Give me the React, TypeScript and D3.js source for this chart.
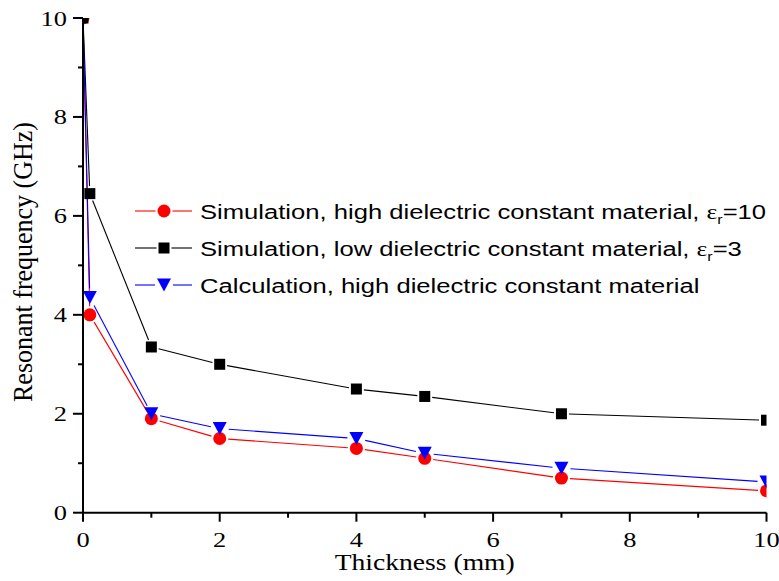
import React from 'react';
import * as d3 from 'd3';

// values
const thickness = [0, 0.1, 1, 2, 4, 5, 7, 10];
const simHigh = [10, 4.0, 1.9, 1.5, 1.3, 1.1, 0.7, 0.44];
const simLow = [10, 6.45, 3.35, 3.0, 2.5, 2.35, 2.0, 1.87];
const calcHigh = [10, 4.35, 2.0, 1.7, 1.5, 1.2, 0.9, 0.62];

const majorTicks = [0, 2, 4, 6, 8, 10];
const minorTicks = [1, 3, 5, 7, 9];

const series = [
  { key: 'simHigh', values: simHigh, color: '#ff0000', shape: 'circle', label: 'Simulation, high dielectric constant material, ', eps: '10' },
  { key: 'simLow', values: simLow, color: '#000000', shape: 'square', label: 'Simulation, low dielectric constant material, ', eps: '3' },
  { key: 'calcHigh', values: calcHigh, color: '#0000ff', shape: 'triangle', label: 'Calculation, high dielectric constant material', eps: null },
];

// drawing order of the markers (black squares sit on top)
const markerOrder = ['simHigh', 'calcHigh', 'simLow'];

const W = 779;
const H = 581;
const serif = '"Liberation Serif", "Times New Roman", serif';
const sans = '"Liberation Sans", Arial, sans-serif';

const x = d3.scaleLinear().domain([0, 10]).range([83, 766.5]);
const y = d3.scaleLinear().domain([0, 10]).range([512.7, 18]);

const markerSize = { circle: 6.5, square: 5.5, triangle: 7 };

const Marker = ({ shape, cx, cy, color }) => {
  if (shape === 'circle') return <circle cx={cx} cy={cy} r={markerSize.circle} fill={color} />;
  if (shape === 'square') {
    const s = markerSize.square;
    return <rect x={cx - s} y={cy - s} width={s * 2} height={s * 2} fill={color} />;
  }
  const s = markerSize.triangle;
  return <path d={`M${cx - s},${cy - s + 0.5}L${cx + s},${cy - s + 0.5}L${cx},${cy + s - 0.5}Z`} fill={color} />;
};

// origin style: the line stops a little short of each symbol
const gappedSegments = (pts, gap) => {
  const segs = [];
  for (let i = 0; i < pts.length - 1; i++) {
    const [x0, y0] = pts[i];
    const [x1, y1] = pts[i + 1];
    const len = Math.hypot(x1 - x0, y1 - y0);
    if (len <= gap * 2) continue;
    const ux = (x1 - x0) / len;
    const uy = (y1 - y0) / len;
    segs.push([x0 + ux * gap, y0 + uy * gap, x1 - ux * gap, y1 - uy * gap]);
  }
  return segs;
};

const App = () => {
  const sx = 1.2; // the picture is a bit wider than tall

  return (
    <svg width={W} height={H} style={{ position: 'absolute', left: 0, top: 0, background: '#fff' }}>
      <defs>
        <clipPath id="plotClip">
          <rect x={x(0)} y={y(10)} width={x(10) - x(0)} height={y(0) - y(10)} />
        </clipPath>
      </defs>
      <rect width={W} height={H} fill="#fff" />

      <g clipPath="url(#plotClip)">
        {series.map(s => {
          const pts = thickness.map((t, i) => [x(t), y(s.values[i])]);
          return (
            <g key={s.key + '-line'}>
              {gappedSegments(pts, markerSize[s.shape] + 2).map((g, i) => (
                <line key={i} x1={g[0]} y1={g[1]} x2={g[2]} y2={g[3]} stroke={s.color} strokeWidth={1.1} />
              ))}
            </g>
          );
        })}
        {markerOrder.map(k => {
          const s = series.find(d => d.key === k);
          return (
            <g key={k + '-marks'}>
              {thickness.map((t, i) => (
                <Marker key={i} shape={s.shape} cx={x(t)} cy={y(s.values[i])} color={s.color} />
              ))}
            </g>
          );
        })}
      </g>

      {/* axes */}
      <g stroke="#000" strokeWidth={2} fill="none">
        <line x1={x(0)} y1={y(0)} x2={x(10)} y2={y(0)} />
        <line x1={x(0)} y1={y(0)} x2={x(0)} y2={y(10)} />
        {majorTicks.map(t => <line key={'xm' + t} x1={x(t)} y1={y(0)} x2={x(t)} y2={y(0) + 9} />)}
        {minorTicks.map(t => <line key={'xn' + t} x1={x(t)} y1={y(0)} x2={x(t)} y2={y(0) + 5} />)}
        {majorTicks.map(t => <line key={'ym' + t} x1={x(0)} y1={y(t)} x2={x(0) - 10} y2={y(t)} />)}
        {minorTicks.map(t => <line key={'yn' + t} x1={x(0)} y1={y(t)} x2={x(0) - 5} y2={y(t)} />)}
      </g>

      <g fontFamily={serif} fontSize={22} fill="#000">
        {majorTicks.map(t => (
          <text key={'xl' + t} transform={`translate(${x(t)},${y(0) + 34}) scale(${sx},1)`} textAnchor="middle">{t}</text>
        ))}
        {majorTicks.map(t => (
          <text key={'yl' + t} transform={`translate(${x(0) - 16},${y(t) + 7.5}) scale(${sx},1)`} textAnchor="end">{t}</text>
        ))}
        <text transform={`translate(${(x(0) + x(10)) / 2},570) scale(${sx},1)`} textAnchor="middle" fontSize={23}>Thickness (mm)</text>
        <text transform={`translate(32,262) rotate(-90) scale(1,1.05)`} textAnchor="middle" fontSize={26}>Resonant frequency (GHz)</text>
      </g>

      {/* legend */}
      <g>
        {series.map((s, i) => {
          const cy = 211 + i * 37;
          const gap = markerSize[s.shape] + 2;
          return (
            <g key={s.key + '-leg'}>
              <line x1={135} y1={cy} x2={164 - gap} y2={cy} stroke={s.color} strokeWidth={1.1} />
              <line x1={164 + gap} y1={cy} x2={192} y2={cy} stroke={s.color} strokeWidth={1.1} />
              <Marker shape={s.shape} cx={164} cy={cy} color={s.color} />
              <text transform={`translate(200,${cy + 7.5}) scale(1.22,1)`} fontFamily={sans} fontSize={21} fill="#000">
                {s.label}
                {s.eps && (
                  <>
                    <tspan fontFamily={serif}>ε</tspan>
                    <tspan fontFamily={sans} fontSize={13} dy={5}>r</tspan>
                    <tspan dy={-5}>={s.eps}</tspan>
                  </>
                )}
              </text>
            </g>
          );
        })}
      </g>
    </svg>
  );
};

export default App;
